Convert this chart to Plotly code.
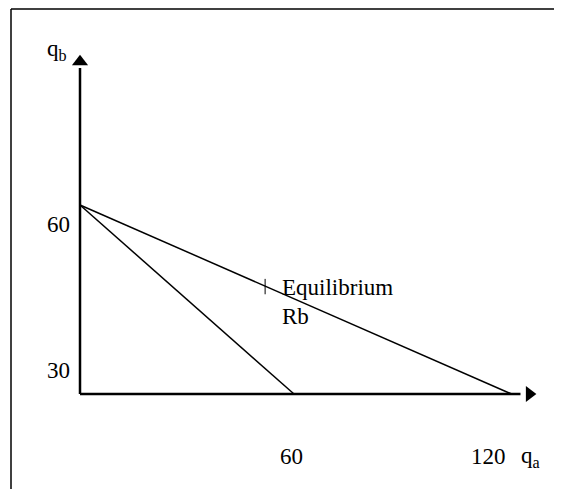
import plotly.graph_objects as go

# chart values
qb_intercept = 60               # both budget lines start here on the qb axis
qa_intercepts = [60, 121]       # where each line meets the qa axis
equilibrium = [52.4, 34.1]      # marked point on the long line
qa_axis_end = 125.5
qb_axis_end = 105.5
y_tick_text = ["60", "30"]
x_tick_text = ["60", "120"]

W, H = 562, 489
OFF = 8                         # page body margin pushes the plot by this much
ORIGIN_PX = (80, 394)           # where the axes cross, in screen pixels
kx = 214 / 60                   # pixels per qa unit
ky = 189 / 60                   # pixels per qb unit


def dx(px):
    return (px - ORIGIN_PX[0]) / kx


def dy(py):
    return (ORIGIN_PX[1] - py) / ky


font = dict(family="Liberation Serif, Times New Roman, serif", size=23, color="black")

fig = go.Figure()

# axes
fig.add_trace(go.Scatter(x=[0, 0], y=[0, qb_axis_end - 2], mode="lines",
                         line=dict(color="black", width=2.5), hoverinfo="skip"))
fig.add_trace(go.Scatter(x=[0, qa_axis_end - 2], y=[0, 0], mode="lines",
                         line=dict(color="black", width=2.5), hoverinfo="skip"))
fig.add_trace(go.Scatter(x=[0], y=[qb_axis_end], mode="markers",
                         marker=dict(symbol="triangle-up", size=14, color="black"),
                         hoverinfo="skip"))
fig.add_trace(go.Scatter(x=[qa_axis_end + 0.5], y=[0], mode="markers",
                         marker=dict(symbol="triangle-right", size=14, color="black"),
                         hoverinfo="skip"))

# budget lines
for q in qa_intercepts:
    fig.add_trace(go.Scatter(x=[0, q], y=[qb_intercept, 0], mode="lines",
                             line=dict(color="black", width=1.5), hoverinfo="skip"))

# equilibrium tick
fig.add_trace(go.Scatter(x=[equilibrium[0] - 0.5], y=[equilibrium[1]], mode="markers",
                         marker=dict(symbol="line-ns", size=11,
                                     line=dict(color="black", width=1)),
                         hoverinfo="skip"))

annotations = [
    dict(x=dx(57), y=dy(50), text="q<sub>b</sub>"),
    dict(x=dx(58), y=dy(224), text=y_tick_text[0]),
    dict(x=dx(58), y=dy(370), text=y_tick_text[1]),
    dict(x=dx(291), y=dy(456), text=x_tick_text[0]),
    dict(x=dx(488), y=dy(456), text=x_tick_text[1]),
    dict(x=dx(530), y=dy(457), text="q<sub>a</sub>"),
    dict(x=dx(280), y=dy(287), text="Equilibrium", xanchor="left"),
    dict(x=dx(280), y=dy(316), text="Rb", xanchor="left"),
]
for a in annotations:
    a.setdefault("xanchor", "center")
    a.update(showarrow=False, font=font, yanchor="middle")

fig.update_layout(
    width=W,
    height=H,
    margin=dict(l=0, r=0, t=0, b=0),
    paper_bgcolor="white",
    plot_bgcolor="white",
    showlegend=False,
    annotations=annotations,
    shapes=[
        dict(type="line", xref="paper", yref="paper",
             x0=(11 - OFF) / W, y0=0, x1=(11 - OFF) / W, y1=1 - (9 - OFF) / H,
             line=dict(color="black", width=1.5)),
        dict(type="line", xref="paper", yref="paper",
             x0=(11 - OFF) / W, y0=1 - (9 - OFF) / H, x1=1, y1=1 - (9 - OFF) / H,
             line=dict(color="black", width=1.5)),
    ],
    xaxis=dict(range=[dx(OFF), dx(OFF + W)], visible=False, fixedrange=True),
    yaxis=dict(range=[dy(OFF + H), dy(OFF)], visible=False, fixedrange=True),
)

fig.write_html("out.html")
